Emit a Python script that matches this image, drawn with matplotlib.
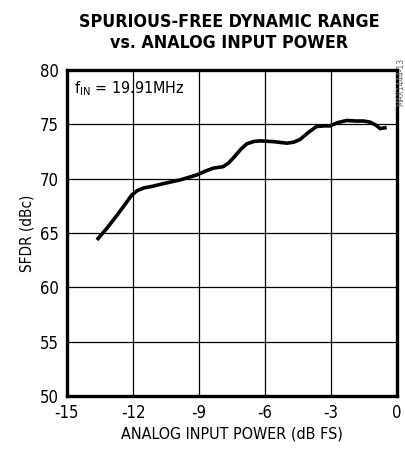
import matplotlib.pyplot as plt

# Values
power_dbfs = [-13.64, -13.2, -12.7, -12.3, -12.05, -11.8, -11.5, -11.1, -10.6, -9.86,
              -9.1, -8.7, -8.35, -7.9, -7.65, -7.44, -7.1, -6.83, -6.5, -6.23,
              -5.6, -5.01, -4.7, -4.41, -4.0, -3.65, -3.3, -3.05, -2.7, -2.29,
              -1.9, -1.53, -1.23, -0.95, -0.77, -0.47]
sfdr_dbc = [64.36, 65.4, 66.7, 67.8, 68.5, 68.9, 69.15, 69.3, 69.55, 69.88,
            70.34, 70.7, 70.96, 71.1, 71.45, 71.9, 72.7, 73.2, 73.42, 73.47,
            73.4, 73.26, 73.35, 73.6, 74.3, 74.8, 74.85, 74.85, 75.15, 75.35,
            75.3, 75.3, 75.2, 74.9, 74.6, 74.7]

plt.rcParams['font.family'] = ['DejaVu Sans']
plt.rcParams['font.stretch'] = 'condensed'
plt.rcParams['axes.unicode_minus'] = False

fig = plt.figure(figsize=(4.06, 4.57), dpi=100)
ax = fig.add_axes([0.165, 0.1335, 0.813, 0.7135])

ax.plot(power_dbfs, sfdr_dbc, color='black', linewidth=2.6,
        solid_joinstyle='round', solid_capstyle='butt')

ax.set_xlim(-15, 0)
ax.set_ylim(50, 80)
ax.set_xticks([-15, -12, -9, -6, -3, 0])
ax.set_yticks([50, 55, 60, 65, 70, 75, 80])
ax.grid(True, color='black', linewidth=0.9)
ax.tick_params(axis='both', length=0, labelsize=12, pad=6)
for s in ax.spines.values():
    s.set_linewidth(2.4)

ax.set_xlabel('ANALOG INPUT POWER (dB FS)', fontsize=11.5, labelpad=3)
ax.set_ylabel('SFDR (dBc)', fontsize=11, labelpad=4)

ax.text(0.02, 0.97, r'f$_{\mathregular{IN}}$ = 19.91MHz', transform=ax.transAxes,
        fontsize=11.5, va='top', ha='left')

fig.text(0.565, 0.972, 'SPURIOUS-FREE DYNAMIC RANGE\nvs. ANALOG INPUT POWER',
         ha='center', va='top', fontsize=12.8, fontweight='bold', linespacing=1.25)

fig.text(0.997, 0.873, 'MAX1444-13', rotation=90, ha='right', va='top',
         fontsize=6, color='#666666')

fig.savefig('out.png', dpi=100)
